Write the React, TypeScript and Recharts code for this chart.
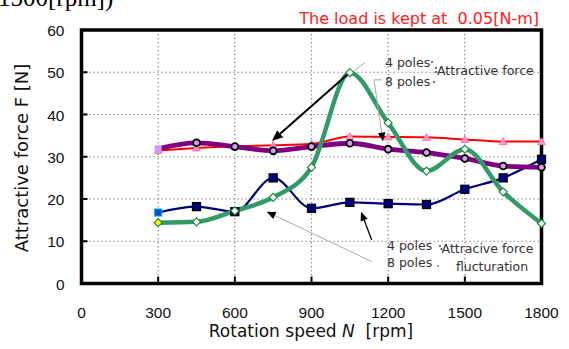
import { LineChart, Line, XAxis, YAxis, CartesianGrid, ReferenceArea, ReferenceLine } from "recharts";

// rotation speed [rpm]
const speeds = [300, 450, 600, 750, 900, 1050, 1200, 1350, 1500, 1650, 1800];
// attractive force [N]
const force4 = [31.5, 32.1, 32.5, 32.7, 33.0, 34.8, 34.7, 34.6, 34.1, 33.6, 33.6];
const force8 = [31.9, 33.3, 32.4, 31.4, 32.4, 33.2, 31.8, 31.0, 29.6, 27.8, 27.5];
// attractive force fluctuation [N]
const fluct4 = [14.4, 14.6, 17.2, 20.4, 27.5, 49.9, 38.0, 26.6, 31.8, 21.7, 14.2];
const fluct8 = [16.8, 18.2, 17.0, 25.0, 17.8, 19.2, 18.9, 18.7, 22.3, 25.0, 29.4];

const xTicks = [0, 300, 600, 900, 1200, 1500, 1800];
const yTicks = [0, 10, 20, 30, 40, 50, 60];

const rows = speeds.map((speed, i) => ({
  speed,
  force4: force4[i],
  force8: force8[i],
  fluct4: fluct4[i],
  fluct8: fluct8[i],
}));

// callout arrows, in data coordinates (tip is the second point)
const arrows = [
  { from: [1047, 49.8], to: [745, 33.7], color: "#000", width: 2, head: 11 },
  { from: [1109, 52.3], to: [1050, 49.6], color: "#aaa", width: 1, head: 0 },
  { from: [1176, 48.2], to: [1144.6, 48.2], color: "#aaa", width: 1, head: 0 },
  { from: [1144.6, 48.2], to: [1179.8, 33.6], color: "#aaa", width: 1, head: 9, headColor: "#000" },
  { from: [1135.6, 10.3], to: [1093.7, 17.0], color: "#000", width: 1.3, head: 9 },
  { from: [1135.6, 5.2], to: [724.7, 17.0], color: "#aaa", width: 1, head: 9, headColor: "#000" },
];

const SANS = "'DejaVu Sans', Arial, sans-serif";
const TICK_FONT = "'Liberation Sans', Arial, sans-serif";

const arrowShape = (color: string, width: number, head: number, headColor: string) => (p: any) => {
  const { x1, y1, x2, y2 } = p;
  const a = Math.atan2(y2 - y1, x2 - x1);
  const hx = x2 - head * Math.cos(a);
  const hy = y2 - head * Math.sin(a);
  const w = head * 0.42;
  return (
    <g>
      <line x1={x1} y1={y1} x2={head ? hx : x2} y2={head ? hy : y2} stroke={color} strokeWidth={width} />
      {head > 0 && (
        <polygon
          points={`${x2},${y2} ${hx + w * Math.sin(a)},${hy - w * Math.cos(a)} ${hx - w * Math.sin(a)},${hy + w * Math.cos(a)}`}
          fill={headColor}
        />
      )}
    </g>
  );
};

const XTick = ({ x, y, payload }: any) => (
  <g>
    {payload.value > 0 && payload.value < 1800 && (
      <line x1={x} x2={x} y1={y} y2={y - 7} stroke="#000" strokeWidth={2} />
    )}
    <text x={x} y={y + 34} textAnchor="middle" fontSize={15.5} fontFamily={TICK_FONT} fill="#111">
      {payload.value}
    </text>
  </g>
);

const YTick = ({ x, y, payload }: any) => (
  <g>
    {payload.value > 0 && payload.value < 60 && (
      <line x1={x} x2={x + 6} y1={y} y2={y} stroke="#000" strokeWidth={2} />
    )}
    <text x={x - 17} y={y + 6} textAnchor="end" fontSize={15.5} fontFamily={TICK_FONT} fill="#111">
      {payload.value}
    </text>
  </g>
);

const TriDot = (p: any) => {
  const { cx, cy, index } = p;
  const s = 3.8;
  return (
    <polygon
      key={index}
      points={`${cx},${cy - s} ${cx + s},${cy + s * 0.8} ${cx - s},${cy + s * 0.8}`}
      fill="#ff99cc"
      stroke="#ff6fa8"
      strokeWidth={1}
    />
  );
};

const CircleDot = (p: any) => {
  const { cx, cy, index } = p;
  if (index === 0) {
    return <rect key={index} x={cx - 3.5} y={cy - 3.5} width={7} height={7} fill="#cc99ff" />;
  }
  return <circle key={index} cx={cx} cy={cy} r={3.4} fill="#cfa3e8" stroke="#000" strokeWidth={1.8} />;
};

const DiamondDot = (p: any) => {
  const { cx, cy, index } = p;
  const s = 4;
  return (
    <polygon
      key={index}
      points={`${cx},${cy - s} ${cx + s},${cy} ${cx},${cy + s} ${cx - s},${cy}`}
      fill={index === 0 ? "#ffff00" : "#fff"}
      stroke="#1d8a3c"
      strokeWidth={1.2}
    />
  );
};

const SquareDot = (p: any) => {
  const { cx, cy, index } = p;
  if (index === 0) {
    return <rect key={index} x={cx - 3.5} y={cy - 3.5} width={7} height={7} fill="#0050c8" stroke="#00a0ff" strokeWidth={1} />;
  }
  return <rect key={index} x={cx - 4} y={cy - 4} width={8} height={8} fill="#000080" stroke="#000" strokeWidth={1.3} />;
};

export default function App() {
  const note = { fontFamily: SANS, fontSize: 12.5, fill: "#333" };
  return (
    <div style={{ position: "relative", width: 569, height: 349, background: "#fff", overflow: "hidden" }}>
      <style>{"body{margin:0}"}</style>
      <LineChart width={569} height={349} data={rows} margin={{ top: 30, right: 27.5, bottom: 0, left: 0 }}>
        <CartesianGrid stroke="#777" strokeWidth={1.2} strokeDasharray="1.3 2.7" />
        <XAxis
          dataKey="speed"
          type="number"
          domain={[0, 1800]}
          ticks={xTicks}
          axisLine={false}
          tickLine={false}
          tickSize={0}
          tickMargin={0}
          height={65.5}
          interval={0}
          tick={<XTick />}
        />
        <YAxis
          type="number"
          domain={[0, 60]}
          ticks={yTicks}
          axisLine={false}
          tickLine={false}
          tickSize={0}
          tickMargin={0}
          width={81.5}
          interval={0}
          tick={<YTick />}
        />
        <Line dataKey="fluct8" type="monotone" stroke="#000080" strokeWidth={2.2} dot={SquareDot} isAnimationActive={false} />
        <Line dataKey="force4" type="monotone" stroke="#ff0000" strokeWidth={2} dot={TriDot} isAnimationActive={false} />
        <Line dataKey="force8" type="monotone" stroke="#800080" strokeWidth={4.8} dot={CircleDot} isAnimationActive={false} />
        <Line dataKey="fluct4" type="monotone" stroke="#339966" strokeWidth={4.5} dot={DiamondDot} isAnimationActive={false} />
        {arrows.map((a, i) => (
          <ReferenceLine
            key={i}
            segment={[
              { x: a.from[0], y: a.from[1] },
              { x: a.to[0], y: a.to[1] },
            ]}
            shape={arrowShape(a.color, a.width, a.head, a.headColor ?? a.color)}
          />
        ))}
        <ReferenceArea x1={0} x2={1800} y1={0} y2={60} fill="none" stroke="#000" strokeWidth={3.5} />
      </LineChart>

      <svg width={569} height={349} style={{ position: "absolute", left: 0, top: 0, pointerEvents: "none" }}>
        <text x={-2} y={5.5} fontFamily="'Liberation Serif', serif" fontSize={25} fill="#000">1500[rpm])</text>
        <text x={539} y={24} textAnchor="end" fontFamily={SANS} fontSize={16} fill="#ff2020" style={{ whiteSpace: "pre" }}>
          {"The load is kept at  0.05[N-m]"}
        </text>

        <text {...note} x={385} y={67}>4 poles</text>
        <text {...note} x={385} y={85.5}>8 poles</text>
        <text {...note} x={437} y={75}>Attractive force</text>
        <circle cx={432} cy={62} r={0.9} fill="#333" />
        <circle cx={434} cy={82} r={0.9} fill="#333" />
        <circle cx={436} cy={68} r={0.9} fill="#333" />
        <circle cx={436} cy={72} r={0.9} fill="#333" />

        <text {...note} x={387} y={249.5}>4 poles</text>
        <text {...note} x={387} y={267}>8 poles</text>
        <text {...note} x={487.5} y={252.5} textAnchor="middle">Attracive force</text>
        <text {...note} x={492} y={270.5} textAnchor="middle">flucturation</text>
        <circle cx={440} cy={246} r={0.9} fill="#333" />
        <circle cx={441.5} cy={249} r={0.9} fill="#333" />
        <circle cx={438} cy={266} r={0.8} fill="#333" />

        <text
          x={0}
          y={0}
          transform="translate(28,158) rotate(-90)"
          textAnchor="middle"
          fontFamily={SANS}
          fontSize={18}
          fill="#111"
        >
          Attractive force F [N]
        </text>
        <text x={311} y={337} textAnchor="middle" fontFamily={SANS} fontSize={17} fill="#111" style={{ whiteSpace: "pre" }}>
          {"Rotation speed "}
          <tspan fontStyle="italic">N</tspan>
          {"  [rpm]"}
        </text>
      </svg>
    </div>
  );
}
